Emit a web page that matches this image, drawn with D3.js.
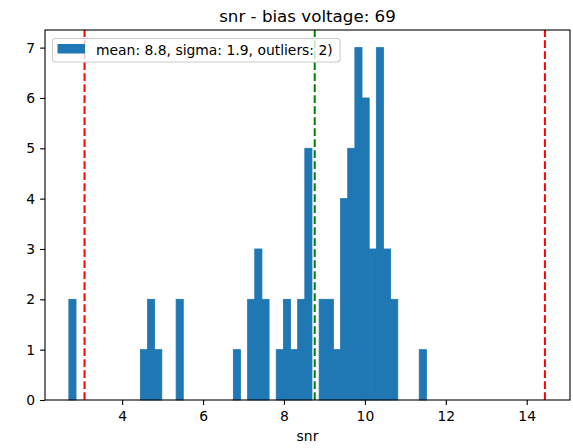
<!DOCTYPE html>
<html>
<head>
<meta charset="utf-8">
<script src="https://cdn.jsdelivr.net/npm/d3@7"></script>
<style>
  body { margin: 0; background: #fff; }
  text { font-family: "DejaVu Sans", sans-serif; fill: #000; }
</style>
</head>
<body>
<div id="chart"></div>
<script>
// Histogram data: 50 equal bins between the data min and max
const binMin = 2.683, binMax = 11.52;
const counts = [2, 0, 0, 0, 0, 0, 0, 0, 0, 0,
                1, 2, 1, 0, 0, 2, 0, 0, 0, 0,
                0, 0, 0, 1, 0, 2, 3, 2, 0, 1,
                2, 1, 2, 5, 0, 2, 2, 1, 4, 5,
                7, 6, 3, 7, 3, 2, 0, 0, 0, 1];
const meanVal = 8.76, lowCut = 3.07, highCut = 14.45;
const xTicks = [4, 6, 8, 10, 12, 14];
const yTicks = [0, 1, 2, 3, 4, 5, 6, 7];
const legendLabel = "mean: 8.8, sigma: 1.9, outliers: 2)";

const W = 573, H = 448;
const margin = { top: 30, right: 3, bottom: 48, left: 45 };

const svg = d3.select("#chart").append("svg")
    .attr("width", W).attr("height", H);

const x = d3.scaleLinear().domain([2.093, 15.07]).range([margin.left, W - margin.right]);
const y = d3.scaleLinear().domain([0, 7.35]).range([H - margin.bottom, margin.top]);

const binW = (binMax - binMin) / counts.length;
const bins = counts.map((c, i) => ({ x0: binMin + i * binW, x1: binMin + (i + 1) * binW, n: c }));

// bars (thin same-colour stroke hides antialias seams)
svg.append("g").selectAll("rect")
    .data(bins.filter(d => d.n > 0))
    .join("rect")
    .attr("x", d => x(d.x0))
    .attr("width", d => x(d.x1) - x(d.x0))
    .attr("y", d => y(d.n))
    .attr("height", d => y(0) - y(d.n))
    .attr("fill", "#1f77b4")
    .attr("stroke", "#1f77b4")
    .attr("stroke-width", 0.8);

// vertical reference lines
const vlines = [
    { v: lowCut, c: "#ff0000" },
    { v: highCut, c: "#ff0000" },
    { v: meanVal, c: "#008000" }
];
svg.append("g").selectAll("line")
    .data(vlines)
    .join("line")
    .attr("x1", d => x(d.v)).attr("x2", d => x(d.v))
    .attr("y1", y.range()[0]).attr("y2", y.range()[1])
    .attr("stroke", d => d.c)
    .attr("stroke-width", 2)
    .attr("stroke-dasharray", "7.7,3.3");

// axes
const xAxis = svg.append("g")
    .attr("transform", `translate(0,${H - margin.bottom})`)
    .call(d3.axisBottom(x).tickValues(xTicks).tickSize(4.9).tickPadding(6).tickFormat(d3.format("d")));
const yAxis = svg.append("g")
    .attr("transform", `translate(${margin.left},0)`)
    .call(d3.axisLeft(y).tickValues(yTicks).tickSize(4.9).tickPadding(5).tickFormat(d3.format("d")));
[xAxis, yAxis].forEach(a => {
    a.select(".domain").remove();
    a.selectAll("text").style("font-size", "13.9px").style("font-family", "DejaVu Sans").attr("fill", "#000");
    a.selectAll(".tick line").attr("stroke-width", 1.1);
});

// frame
svg.append("rect")
    .attr("x", margin.left).attr("y", margin.top)
    .attr("width", W - margin.left - margin.right)
    .attr("height", H - margin.top - margin.bottom)
    .attr("fill", "none").attr("stroke", "#000").attr("stroke-width", 1.1);

// title and label
svg.append("text")
    .attr("x", (margin.left + W - margin.right) / 2).attr("y", 22)
    .attr("text-anchor", "middle").style("font-size", "16.7px")
    .text("snr - bias voltage: 69");
svg.append("text")
    .attr("x", (margin.left + W - margin.right) / 2).attr("y", 441)
    .attr("text-anchor", "middle").style("font-size", "13.9px")
    .text("snr");

// legend
const lg = svg.append("g");
lg.append("rect")
    .attr("x", 52.5).attr("y", 38.5).attr("width", 287.5).attr("height", 23.5)
    .attr("rx", 3)
    .attr("fill", "#fff").attr("fill-opacity", 0.8)
    .attr("stroke", "#cccccc").attr("stroke-width", 1.1);
lg.append("rect")
    .attr("x", 57.5).attr("y", 44).attr("width", 27.5).attr("height", 9.5)
    .attr("fill", "#1f77b4");
lg.append("text")
    .attr("x", 96).attr("y", 54.5)
    .style("font-size", "13.9px")
    .text(legendLabel);
</script>
</body>
</html>
